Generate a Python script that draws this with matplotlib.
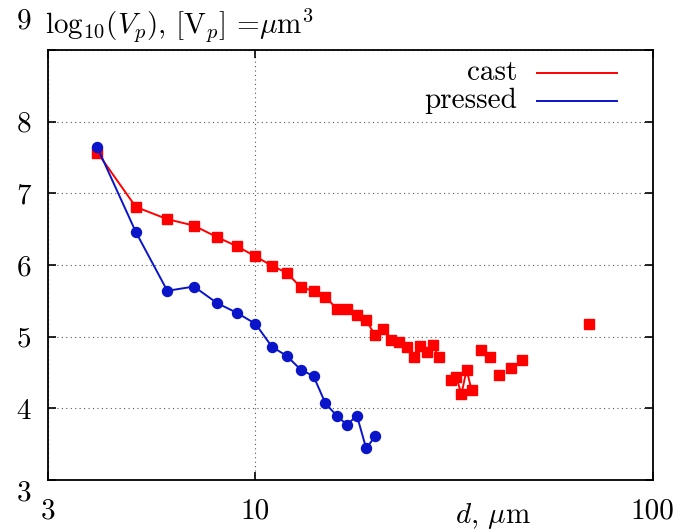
import numpy as np
import pandas as pd
import matplotlib
matplotlib.use('Agg')
import matplotlib.pyplot as plt

# grain size d (um) and log10 of pore volume
cast_d = [4, 5, 6, 7, 8, 9, 10, 11, 12, 13, 14, 15, 16, 17, 18, 19, 20, 21, 22, 23,
          24, 25, 26, 27, 28, 29, 31, 32, 33, 34, 35, 37, 39, 41, 44, 47, 69]
cast_v = [7.57, 6.81, 6.64, 6.55, 6.39, 6.26, 6.12, 5.99, 5.89, 5.69, 5.64, 5.56,
          5.39, 5.39, 5.30, 5.23, 5.02, 5.11, 4.95, 4.92, 4.86, 4.72, 4.87, 4.78,
          4.88, 4.71, 4.40, 4.44, 4.20, 4.54, 4.25, 4.82, 4.72, 4.46, 4.57, 4.67, 5.18]

pressed_d = [4, 5, 6, 7, 8, 9, 10, 11, 12, 13, 14, 15, 16, 17, 18, 19, 20]
pressed_v = [7.64, 6.46, 5.64, 5.70, 5.47, 5.33, 5.18, 4.86, 4.73, 4.54, 4.45,
             4.07, 3.90, 3.77, 3.90, 3.44, 3.61]

x_ticks = [3, 10, 100]
y_ticks = [3, 4, 5, 6, 7, 8, 9]
labels = ['cast', 'pressed']

red = '#ff0000'
blue = '#0a14c8'
fs = 21


def with_gaps(d, v):
    # missing integer sizes -> NaN so the line breaks there
    s = pd.Series(v, index=d).reindex(range(min(d), max(d) + 1))
    return s.index.values, s.values


plt.rcParams['font.family'] = 'serif'
plt.rcParams['font.serif'] = ['cmr10']
plt.rcParams['mathtext.fontset'] = 'cm'
plt.rcParams['axes.formatter.use_mathtext'] = True

fig = plt.figure(figsize=(6.76, 5.30), dpi=100)
ax = fig.add_axes([0.0706, 0.0943, 0.895, 0.8113])

x, y = with_gaps(cast_d, cast_v)
ax.plot(x, y, color=red, lw=1.4, marker='s', ms=7.2, mec=red, mfc=red)
x, y = with_gaps(pressed_d, pressed_v)
ax.plot(x, y, color=blue, lw=1.4, marker='o', ms=7.2, mec=blue, mfc=blue)

ax.set_xscale('log')
ax.set_xlim(3, 100)
ax.set_ylim(3, 9)
ax.set_xticks(x_ticks)
ax.set_xticklabels([str(t) for t in x_ticks])
ax.xaxis.set_minor_locator(matplotlib.ticker.NullLocator())
ax.set_yticks(y_ticks)
# top label sits up beside the title, as in the original
ax.set_yticklabels([str(t) for t in y_ticks[:-1]] + [''])
ax.annotate(str(y_ticks[-1]), xy=(0, y_ticks[-1]),
            xycoords=('axes fraction', 'data'), xytext=(-12, 21),
            textcoords='offset points', ha='right', va='center', fontsize=fs)

ax.tick_params(direction='in', length=6, width=1.2, top=True, right=True,
               labelsize=fs)
ax.tick_params(axis='y', pad=12)
ax.tick_params(axis='x', pad=13)
ax.get_yticklabels()[0].set_va('top')

ax.grid(True, color='#555555', lw=0.8, linestyle=(0, (1, 3)))
for s in ax.spines.values():
    s.set_linewidth(1.3)

ax.text(0.736, -0.100, r'$d$, $\mu$m', transform=ax.transAxes, fontsize=fs,
        ha='center', va='baseline')
ax.set_title(r'$\mathrm{log}_{10}(V_p)$, [V$_p$] =$\mu$m$^3$', loc='left',
             fontsize=fs, pad=12, x=-0.005)

# key, gnuplot style: right-aligned text, line sample to its right
for lab, col, yk in zip(labels, [red, blue], [0.9465, 0.881]):
    ax.text(0.776, yk, lab, transform=ax.transAxes, fontsize=fs,
            ha='right', va='center')
    ax.plot([0.809, 0.941], [yk, yk], transform=ax.transAxes, color=col, lw=1.4)

fig.savefig('out.png', dpi=100)
